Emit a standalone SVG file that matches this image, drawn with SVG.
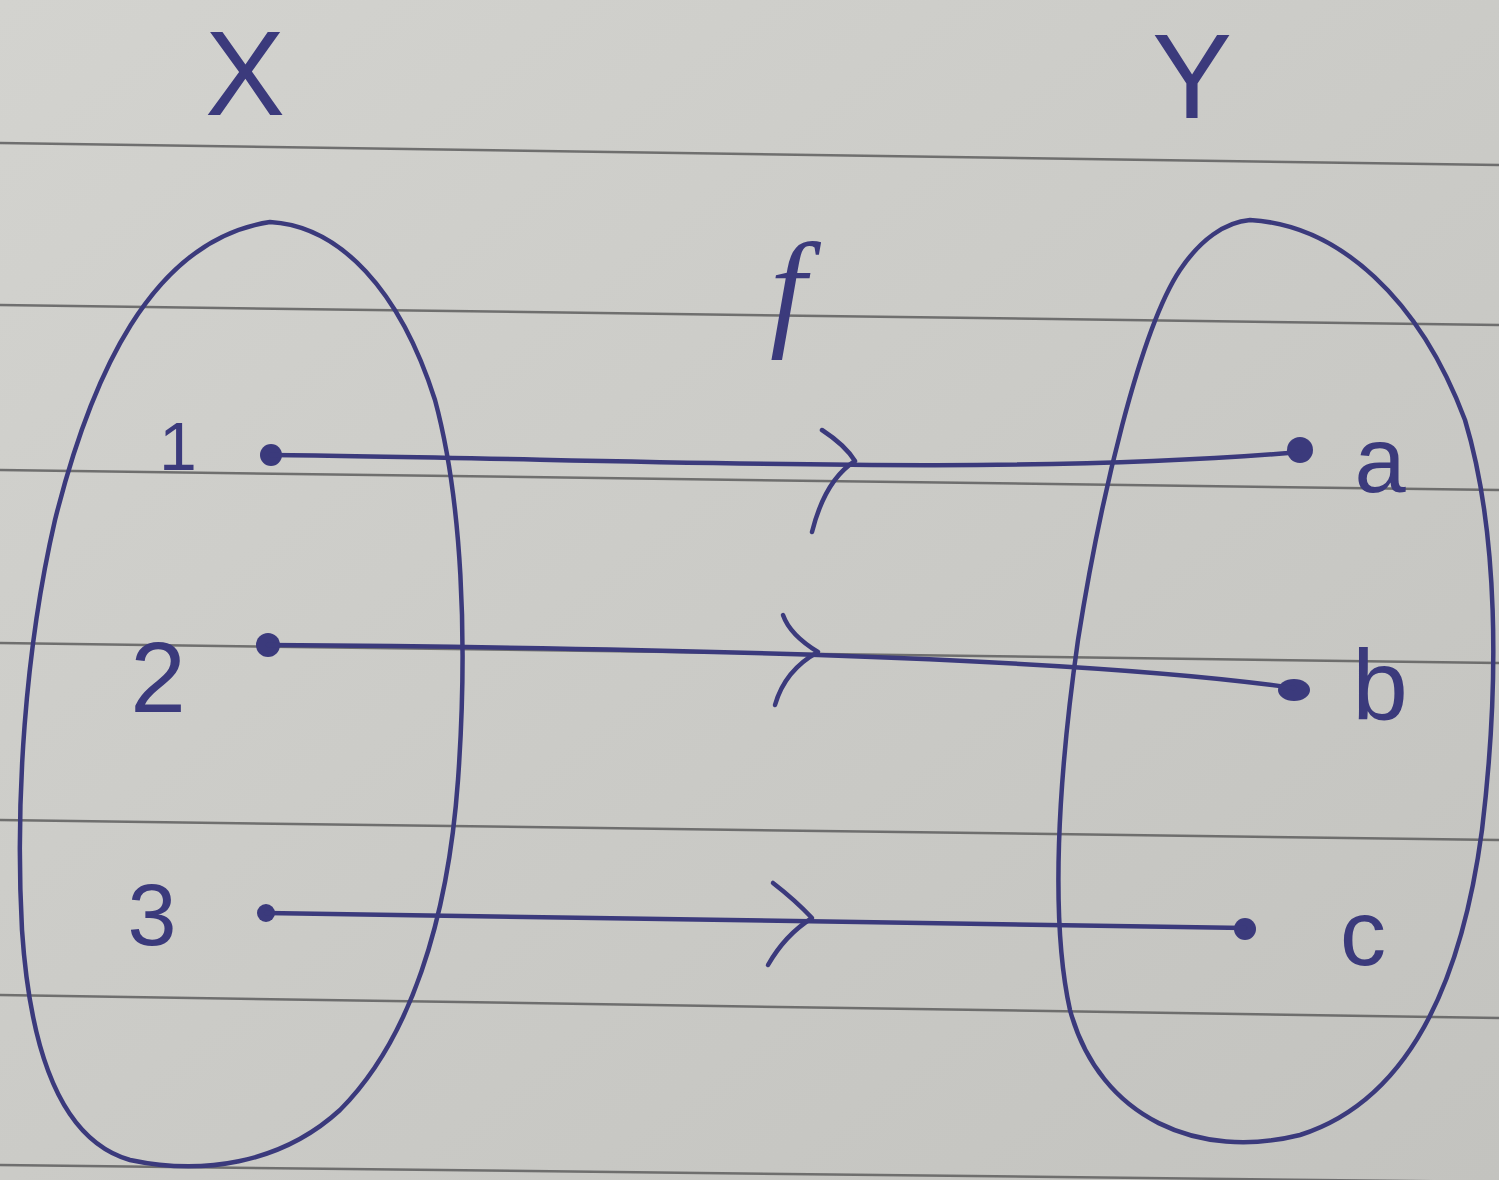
<svg xmlns="http://www.w3.org/2000/svg" width="1499" height="1180" viewBox="0 0 1499 1180">
<defs>
<linearGradient id="paper" x1="0" y1="0" x2="1" y2="1">
<stop offset="0" stop-color="#d3d3cf"/>
<stop offset="0.5" stop-color="#cbcbc7"/>
<stop offset="1" stop-color="#c3c3bf"/>
</linearGradient>
<style>
.rule{stroke:#5e5e5e;stroke-width:2.5;fill:none;opacity:0.85}
.ink{stroke:#3b3a7c;stroke-width:4.5;fill:none;stroke-linecap:round;stroke-linejoin:round}
.dot{fill:#3b3a7c}
.lbl{font-family:"Liberation Sans",Arial,sans-serif;fill:#3b3a7c;text-anchor:middle}
.hd{font-family:"Liberation Sans",Arial,sans-serif;fill:#3b3a7c;text-anchor:middle;font-weight:300}
</style>
</defs>
<rect x="0" y="0" width="1499" height="1180" fill="url(#paper)"/>
<g id="rules">
<path class="rule" d="M0,143 L1499,165"/>
<path class="rule" d="M0,305 L1499,325"/>
<path class="rule" d="M0,470 L1499,490"/>
<path class="rule" d="M0,643 L1499,663"/>
<path class="rule" d="M0,820 L1499,840"/>
<path class="rule" d="M0,995 L1499,1018"/>
<path class="rule" d="M0,1165 L1499,1182"/>
</g>
<g id="set-X">
<path class="ink" d="M270,222 C340,226 400,290 435,400 C462,500 468,640 458,780 C448,920 410,1040 340,1110 C280,1165 200,1175 130,1160 C60,1140 30,1050 22,930 C15,800 25,650 55,520 C90,380 150,240 270,222 Z"/>
<text class="hd" x="245" y="115" font-size="120">X</text>
</g>
<g id="set-Y">
<path class="ink" d="M1250,220 C1340,225 1420,300 1465,420 C1498,530 1500,680 1482,830 C1462,980 1410,1100 1300,1135 C1200,1160 1100,1120 1070,1010 C1050,920 1058,780 1078,640 C1100,500 1140,330 1180,270 C1200,240 1225,222 1250,220 Z"/>
<text class="hd" x="1192" y="118" font-size="120">Y</text>
</g>
<g id="label-f">
<text x="788" y="332" font-size="130" font-style="italic" font-family="Liberation Serif,serif" fill="#3b3a7c" text-anchor="middle">f</text>
</g>
<g id="node-1">
<circle class="dot" cx="271" cy="455" r="11"/>
<text class="lbl" x="178" y="470" font-size="68">1</text>
</g>
<g id="node-2">
<circle class="dot" cx="268" cy="645" r="12"/>
<text class="lbl" x="158" y="712" font-size="100">2</text>
</g>
<g id="node-3">
<circle class="dot" cx="266" cy="913" r="9"/>
<text class="lbl" x="152" y="945" font-size="88">3</text>
</g>
<g id="node-a">
<circle class="dot" cx="1300" cy="450" r="13"/>
<text class="lbl" x="1380" y="492" font-size="92">a</text>
</g>
<g id="node-b">
<ellipse class="dot" cx="1294" cy="690" rx="16" ry="11"/>
<text class="lbl" x="1380" y="720" font-size="100">b</text>
</g>
<g id="node-c">
<circle class="dot" cx="1245" cy="929" r="11"/>
<text class="lbl" x="1363" y="965" font-size="92">c</text>
</g>
<g id="connectors">
<path class="ink" d="M271,455 C600,458 1000,478 1300,452"/>
<path class="ink" d="M822,430 Q845,445 855,461 Q825,480 812,532"/>
<path class="ink" d="M268,645 C700,648 1100,660 1294,688"/>
<path class="ink" d="M783,615 Q790,635 818,652 Q785,670 775,705"/>
<path class="ink" d="M266,913 C600,918 1000,924 1245,928"/>
<path class="ink" d="M773,883 Q795,900 812,918 Q785,935 768,965"/>
</g>
</svg>
